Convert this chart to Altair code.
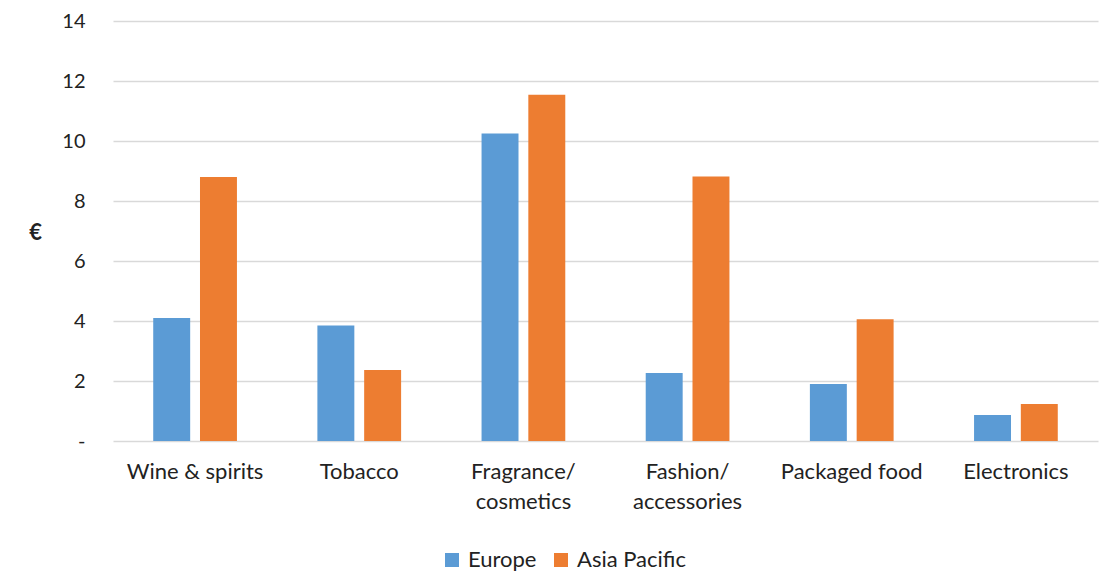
import altair as alt
import pandas as pd

categories = ["Wine & spirits", "Tobacco", "Fragrance/ cosmetics", "Fashion/ accessories", "Packaged food", "Electronics"]
europe = [4.1, 3.85, 10.25, 2.27, 1.9, 0.87]
asia_pacific = [8.8, 2.37, 11.54, 8.82, 4.06, 1.23]
series = ["Europe", "Asia Pacific"]
colors = ["#5B9BD5", "#ED7D31"]

rows = []
for c, e, a in zip(categories, europe, asia_pacific):
    rows.append({"category": c, "region": "Europe", "value": e})
    rows.append({"category": c, "region": "Asia Pacific", "value": a})
df = pd.DataFrame(rows)

FONT = "Lato"
FS = 22

label_expr = "split(replace(datum.label, '/ ', '/|'), '|')"

chart = alt.Chart(df).mark_bar().encode(
    x=alt.X("category:N", sort=categories,
            scale=alt.Scale(paddingInner=0.49, paddingOuter=0.245),
            axis=alt.Axis(title=None, labelAngle=0, labelExpr=label_expr,
                          labelFontSize=FS, labelFont=FONT, labelColor="#222222",
                          labelPadding=20, labelBaseline="top", labelLineHeight=30,
                          ticks=False, domain=False)),
    xOffset=alt.XOffset("region:N", sort=series, scale=alt.Scale(paddingInner=0.21, paddingOuter=0)),
    y=alt.Y("value:Q", scale=alt.Scale(domain=[0, 14]),
            axis=alt.Axis(title="€", titleAngle=0, titleX=-78, titleY=211,
                          titleFontSize=FS, titleFont=FONT, titleFontWeight="bold",
                          titleColor="#222222", titleBaseline="middle", titleAlign="center",
                          values=[0, 2, 4, 6, 8, 10, 12, 14],
                          labelExpr="datum.value == 0 ? '-' : datum.label",
                          labelFontSize=20, labelFont=FONT, labelColor="#222222",
                          labelPadding=28, ticks=False, domain=False,
                          gridColor="#d9d9d9", gridWidth=1.5)),
    color=alt.Color("region:N", sort=series,
                    scale=alt.Scale(domain=series, range=colors),
                    legend=alt.Legend(title=None, orient="none", direction="horizontal",
                                      legendX=328, legendY=528,
                                      symbolType="square", symbolSize=196,
                                      symbolStrokeWidth=0,
                                      labelFontSize=FS, labelFont=FONT, labelColor="#222222",
                                      columnPadding=13, labelOffset=5)),
).properties(
    width=985, height=420,
    autosize=alt.AutoSizeParams(type="none"),
    padding={"left": 105, "top": 13, "right": 3, "bottom": 133},
    background="white",
).configure_view(stroke=None)

chart.save("out.html", embed_options={"renderer": "svg", "actions": False})
